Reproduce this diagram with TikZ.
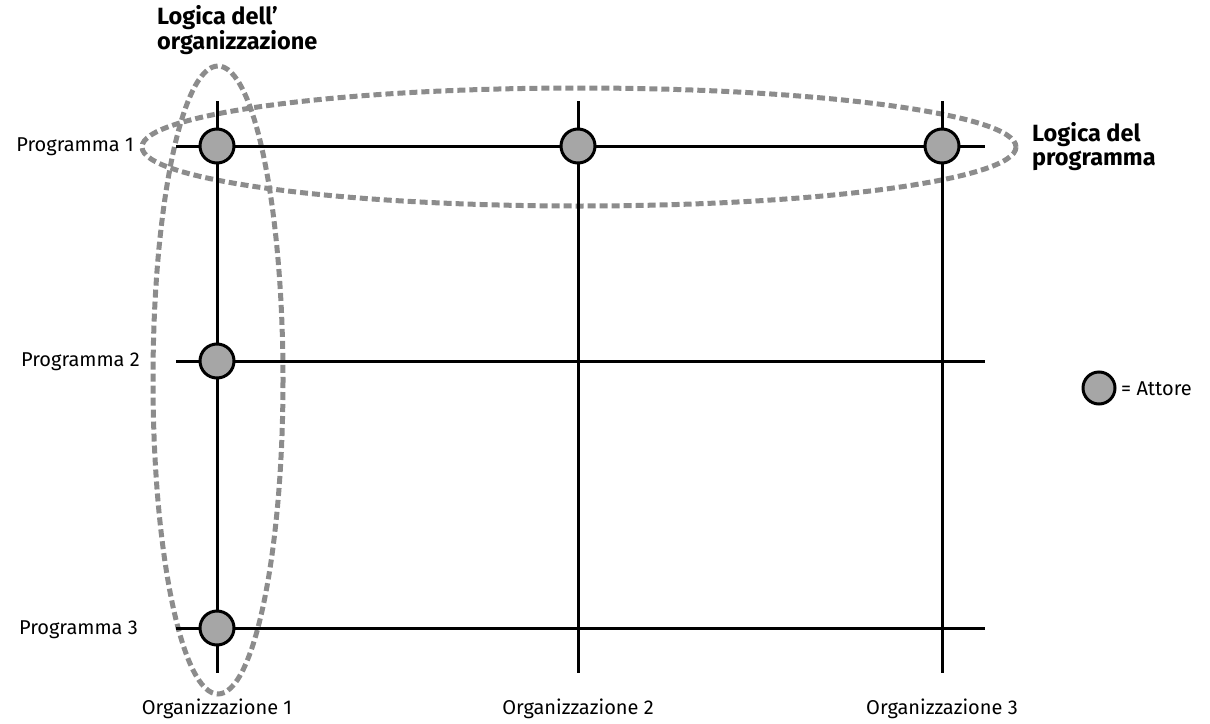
\documentclass[tikz,border=0pt]{standalone}
\usepackage{fontspec}
\setmainfont{Fira Sans}
\begin{document}
\begin{tikzpicture}[x=1pt,y=-1pt,
  grid/.style={line width=3pt,black},
  actor/.style={circle,draw=black,line width=3pt,fill=actgray,minimum size=34pt,inner sep=0pt},
  logic/.style={draw=dashgray,line width=5pt,dash pattern=on 8pt off 4pt},
  lbl/.style={font=\fontsize{20}{24}\selectfont,inner sep=0pt},
  head/.style={font=\fontsize{23.5}{24}\selectfont\bfseries,align=left,inner sep=0pt}]
\definecolor{actgray}{HTML}{A6A6A6}
\definecolor{dashgray}{HTML}{8C8C8C}
\useasboundingbox (0,0) rectangle (1210,723);
% dashed ellipses
\draw[logic] (579,147) ellipse [x radius=437, y radius=59];
\draw[logic] (218,380) ellipse [x radius=65, y radius=314];
% coordinates of grid
\coordinate (v1t) at (217,101); \coordinate (v1b) at (217,673);
\coordinate (v2t) at (578,101); \coordinate (v2b) at (578,673);
\coordinate (v3t) at (942,101); \coordinate (v3b) at (942,673);
\coordinate (h1l) at (176,146); \coordinate (h1r) at (985,146);
\coordinate (h2l) at (176,361); \coordinate (h2r) at (985,361);
\coordinate (h3l) at (176,628); \coordinate (h3r) at (985,628);
\draw[grid] (v1t) -- (v1b);
\draw[grid] (v2t) -- (v2b);
\draw[grid] (v3t) -- (v3b);
\draw[grid] (h1l) -- (h1r);
\draw[grid] (h2l) -- (h2r);
\draw[grid] (h3l) -- (h3r);
% actors
\node[actor] (a11) at (217,146) {};
\node[actor] (a12) at (578,146) {};
\node[actor] (a13) at (942,146) {};
\node[actor] (a21) at (217,361) {};
\node[actor] (a31) at (217,628) {};
% labels
\node[lbl,anchor=east] (p1) at (134,147) {Programma 1};
\node[lbl,anchor=east] (p2) at (140,362) {Programma 2};
\node[lbl,anchor=east] (p3) at (138,630) {Programma 3};
\node[lbl] (o1) at (217,709) {Organizzazione 1};
\node[lbl] (o2) at (578,709) {Organizzazione 2};
\node[lbl] (o3) at (942,709) {Organizzazione 3};
\node[head,anchor=north west] (lo) at (157,5) {Logica dell’\\organizzazione};
\node[head,anchor=west] (lp) at (1032,147) {Logica del\\programma};
% legend
\node[actor,minimum size=32pt] (leg) at (1099,388) {};
\node[lbl,anchor=west] (legt) at (1121,389) {= Attore};
\end{tikzpicture}
\end{document}
